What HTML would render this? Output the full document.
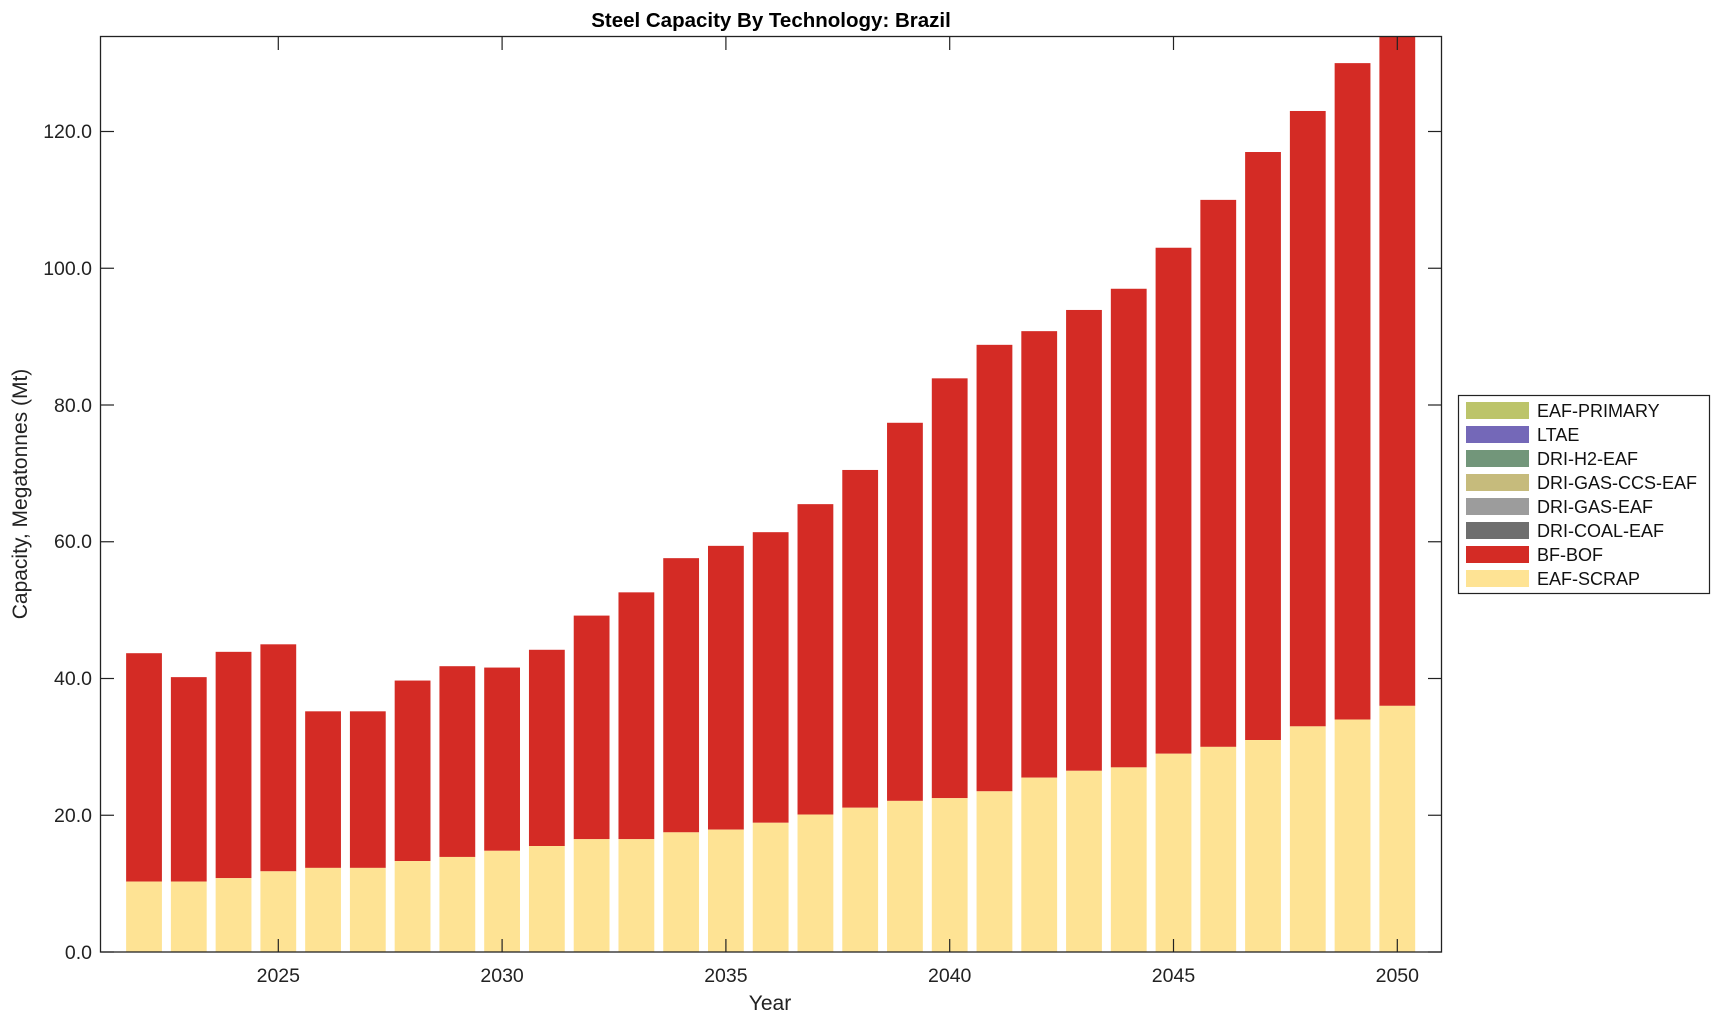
<!DOCTYPE html>
<html><head><meta charset="utf-8"><style>
html,body{margin:0;padding:0;background:#fff;}
svg{display:block;font-family:"Liberation Sans",Arial,sans-serif;}
</style></head><body>
<svg id="s" width="1720" height="1021" viewBox="0 0 1720 1021" xmlns="http://www.w3.org/2000/svg">
<rect width="1720" height="1021" fill="#fff"/>
<g id="bars"></g>
<rect x="100.5" y="36.5" width="1341" height="915.5" fill="none" stroke="#222" stroke-width="1.3"/>
<g id="ticks" stroke="#222" stroke-width="1.2"></g>
<g font-size="19.5" fill="#222" text-anchor="end">
<text x="92" y="959">0.0</text>
<text x="92" y="822">20.0</text>
<text x="92" y="685">40.0</text>
<text x="92" y="548">60.0</text>
<text x="92" y="412">80.0</text>
<text x="92" y="275">100.0</text>
<text x="92" y="138">120.0</text>
</g>
<g font-size="19.5" fill="#222" text-anchor="middle">
<text x="278.3" y="982">2025</text>
<text x="502.1" y="982">2030</text>
<text x="725.9" y="982">2035</text>
<text x="949.7" y="982">2040</text>
<text x="1173.5" y="982">2045</text>
<text x="1397.3" y="982">2050</text>
<text x="770" y="1010" font-size="21">Year</text>
<text x="771" y="27" font-size="20.5" font-weight="bold" fill="#000">Steel Capacity By Technology: Brazil</text>
<text transform="translate(27,494) rotate(-90)" font-size="21">Capacity, Megatonnes (Mt)</text>
</g>
<rect x="1458.5" y="395.5" width="251" height="198" fill="#fff" stroke="#222" stroke-width="1.2"/>
<g id="leg" font-size="18" fill="#111">
<rect x="1466" y="402" width="63" height="17" fill="#bcc46a"/><text x="1537" y="417">EAF-PRIMARY</text>
<rect x="1466" y="426" width="63" height="17" fill="#7468b8"/><text x="1537" y="441">LTAE</text>
<rect x="1466" y="450" width="63" height="17" fill="#72967a"/><text x="1537" y="465">DRI-H2-EAF</text>
<rect x="1466" y="474" width="63" height="17" fill="#c6bb7c"/><text x="1537" y="489">DRI-GAS-CCS-EAF</text>
<rect x="1466" y="498" width="63" height="17" fill="#9c9c9c"/><text x="1537" y="513">DRI-GAS-EAF</text>
<rect x="1466" y="522" width="63" height="17" fill="#6e6e6e"/><text x="1537" y="537">DRI-COAL-EAF</text>
<rect x="1466" y="546" width="63" height="17" fill="#d42b25"/><text x="1537" y="561">BF-BOF</text>
<rect x="1466" y="570" width="63" height="17" fill="#fee394"/><text x="1537" y="585">EAF-SCRAP</text>
</g>
</svg>
<script>
var d=[[10.3,43.7],[10.3,40.2],[10.8,43.9],[11.8,45.0],[12.3,35.2],[12.3,35.2],[13.3,39.7],[13.9,41.8],[14.8,41.6],[15.5,44.2],[16.5,49.2],[16.5,52.6],[17.5,57.6],[17.9,59.4],[18.9,61.4],[20.1,65.5],[21.1,70.5],[22.1,77.4],[22.5,83.9],[23.5,88.8],[25.5,90.8],[26.5,93.9],[27.0,97.0],[29.0,103.0],[30.0,110.0],[31.0,117.0],[33.0,123.0],[34.0,130.0],[36.0,140]];
var ns="http://www.w3.org/2000/svg",g=document.getElementById("bars"),t=document.getElementById("ticks");
function Y(v){return 952-v*6.8375;}
function r(x,y,w,h,f){var e=document.createElementNS(ns,"rect");e.setAttribute("x",x);e.setAttribute("y",y);e.setAttribute("width",w);e.setAttribute("height",h);e.setAttribute("fill",f);g.appendChild(e);}
d.forEach(function(p,i){var c=278.3+(i-3)*44.76,x=c-17.9;
var top=Math.max(Y(p[1]),36.5);
r(x,top,35.8,Y(p[0])-top,"#d42b25");
r(x,Y(p[0]),35.8,952-Y(p[0]),"#fee394");});
function l(x1,y1,x2,y2){var e=document.createElementNS(ns,"line");e.setAttribute("x1",x1);e.setAttribute("y1",y1);e.setAttribute("x2",x2);e.setAttribute("y2",y2);t.appendChild(e);}
for(var k=0;k<6;k++){var x=278.3+k*223.8;l(x,952,x,939);l(x,36.5,x,50);}
for(var k=0;k<7;k++){var y=Y(k*20);l(100.5,y,114,y);l(1441.5,y,1428,y);}
</script>
</body></html>
